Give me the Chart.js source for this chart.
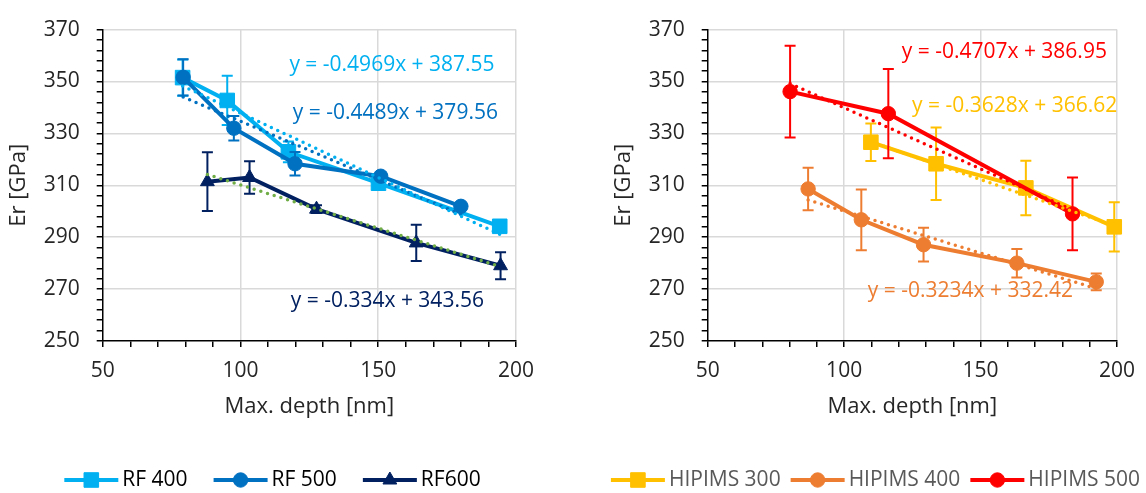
<!DOCTYPE html>
<html>
<head>
<meta charset="utf-8">
<title>Er vs max. depth</title>
<script src="https://cdn.jsdelivr.net/npm/chart.js@4.4.1/dist/chart.umd.min.js"></script>
<style>
  html, body { margin: 0; padding: 0; background: #fff; overflow: hidden; }
  #left { position: absolute; left: 0; top: 0; }
  #right { position: absolute; left: 605px; top: 0; }
</style>
</head>
<body>
<canvas id="left" width="545" height="493"></canvas>
<canvas id="right" width="541" height="493"></canvas>
<script>
// DATA - RF panel
const rfLabels = ["RF 400", "RF 500", "RF600"];
const rf400Depth = [79, 95.2, 117.4, 150.1, 194.1];
const rf400Er    = [351.5, 342.7, 322.9, 310.8, 294.2];
const rf400Err   = [7, 9.5, 4, 2.2, 1.5];
const rf500Depth = [79.2, 97.6, 119.8, 150.9, 180];
const rf500Er    = [351.6, 332, 318.3, 313.5, 301.9];
const rf500Err   = [7, 4.7, 4.5, 1.5, 1];
const rf600Depth = [88, 103.3, 127.6, 163.8, 194.4];
const rf600Er    = [311.4, 313, 300.8, 287.8, 279];
const rf600Err   = [11.3, 6.3, 1.5, 7, 5.2];
const rfSlopes     = [-0.4969, -0.4489, -0.334];
const rfIntercepts = [387.55, 379.56, 343.56];

// DATA - HIPIMS panel
const hipLabels = ["HIPIMS 300", "HIPIMS 400", "HIPIMS 500"];
const hip300Depth = [109.8, 133.7, 166.6, 199];
const hip300Er    = [326.6, 318.3, 309, 294];
const hip300Err   = [7.2, 14, 10.5, 9.5];
const hip400Depth = [86.8, 106.3, 129.1, 163.3, 192.4];
const hip400Er    = [308.6, 296.7, 287.1, 280, 272.8];
const hip400Err   = [8.2, 11.7, 6.5, 5.5, 3.2];
const hip500Depth = [80.2, 116.2, 183.7];
const hip500Er    = [346.1, 337.6, 299];
const hip500Err   = [17.7, 17.2, 14];
const hipSlopes     = [-0.3628, -0.3234, -0.4707];
const hipIntercepts = [366.62, 332.42, 386.95];

// AXES
const yMin = 250, yMax = 370, yMajor = 20, yMinor = 4;
const xMin = 50, xMax = 200, xMajor = 50, xMinor = 10;

const FONT = "Open Sans";
Chart.defaults.font.family = FONT;
Chart.defaults.font.size = 21;

const TEXT = "#262626";
const GRID = "#D9D9D9";

function points(xs, ys) {
  return xs.map((x, i) => ({ x: x, y: ys[i] }));
}

function series(label, xs, ys, errs, color, style, radius, order) {
  return {
    label: label,
    data: points(xs, ys),
    errors: errs,
    showLine: true,
    borderColor: color,
    backgroundColor: color,
    borderWidth: 4,
    pointStyle: style,
    pointRadius: radius,
    pointHoverRadius: radius,
    pointBorderWidth: 1,
    pointBackgroundColor: color,
    pointBorderColor: color,
    clip: false,
    order: order
  };
}

// linear trendline drawn over the series' own depth range
function trend(xs, slope, intercept, color) {
  const lo = Math.min(...xs), hi = Math.max(...xs);
  return {
    label: "trend",
    trend: true,
    data: [{ x: lo, y: slope * lo + intercept }, { x: hi, y: slope * hi + intercept }],
    showLine: true,
    borderColor: color,
    borderWidth: 3.5,
    borderDash: [0, 7],
    borderCapStyle: "round",
    pointRadius: 0,
    pointHoverRadius: 0,
    clip: false,
    order: 0
  };
}

function eqText(slope, intercept) {
  return "y = " + slope + "x + " + intercept;
}

// ERROR BARS (drawn just before each series)
const errorBars = {
  id: "errorBars",
  beforeDatasetDraw(chart, args) {
    const ds = chart.data.datasets[args.index];
    if (!ds.errors) return;
    const xs = chart.scales.x, ys = chart.scales.y, ctx = chart.ctx;
    ctx.save();
    ctx.strokeStyle = ds.borderColor;
    ctx.lineWidth = 2;
    ds.data.forEach((p, i) => {
      const px = xs.getPixelForValue(p.x);
      const top = ys.getPixelForValue(p.y + ds.errors[i]);
      const bot = ys.getPixelForValue(p.y - ds.errors[i]);
      ctx.beginPath();
      ctx.moveTo(px, top); ctx.lineTo(px, bot);
      ctx.moveTo(px - 5.5, top); ctx.lineTo(px + 5.5, top);
      ctx.moveTo(px - 5.5, bot); ctx.lineTo(px + 5.5, bot);
      ctx.stroke();
    });
    ctx.restore();
  }
};

// EQUATION LABELS
const equations = {
  id: "equations",
  afterDatasetsDraw(chart, args, opts) {
    const ctx = chart.ctx;
    ctx.save();
    ctx.font = "21px '" + FONT + "'";
    ctx.textAlign = "center";
    ctx.textBaseline = "middle";
    opts.items.forEach(it => {
      ctx.fillStyle = it.color;
      ctx.fillText(it.text, chart.scales.x.getPixelForValue(it.x), chart.scales.y.getPixelForValue(it.y));
    });
    ctx.restore();
  }
};

// LEGEND (line + marker, Excel style)
const lineLegend = {
  id: "lineLegend",
  afterDraw(chart, args, opts) {
    const ctx = chart.ctx;
    const items = chart.data.datasets.filter(d => !d.trend);
    ctx.save();
    ctx.font = "21px '" + FONT + "'";
    const widths = items.map(d => 54 + 4 + ctx.measureText(d.label).width);
    const total = widths.reduce((a, b) => a + b, 0) + opts.gap * (items.length - 1);
    let x = (chart.width - total) / 2;
    const y = opts.y;
    items.forEach((d, i) => {
      ctx.strokeStyle = d.borderColor;
      ctx.fillStyle = d.borderColor;
      ctx.lineWidth = 4;
      ctx.beginPath();
      ctx.moveTo(x, y); ctx.lineTo(x + 54, y);
      ctx.stroke();
      ctx.lineWidth = 1;
      Chart.helpers.drawPoint(ctx, { pointStyle: d.pointStyle, radius: d.pointRadius, borderWidth: 1, rotation: 0 }, x + 27, y);
      ctx.fillStyle = opts.color;
      ctx.textAlign = "left";
      ctx.textBaseline = "middle";
      ctx.fillText(d.label, x + 58, y);
      x += widths[i] + opts.gap;
    });
    ctx.restore();
  }
};

function scales() {
  return {
    x: {
      type: "linear", min: xMin, max: xMax,
      afterFit(s) { s.height = 83; },
      ticks: {
        stepSize: xMinor, autoSkip: false, maxRotation: 0, minRotation: 0,
        color: TEXT, padding: 11,
        callback: v => (v % xMajor === 0 ? v : "")
      },
      grid: {
        color: c => (c.tick && c.tick.value % xMajor === 0 && c.tick.value !== xMin ? GRID : "rgba(0,0,0,0)"),
        lineWidth: 1.5, tickColor: "#000", tickWidth: 1.5, tickLength: 6
      },
      border: { color: "#000", width: 1.5 },
      title: { display: true, text: "Max. depth [nm]", color: TEXT, font: { size: 22 } }
    },
    y: {
      type: "linear", min: yMin, max: yMax,
      afterFit(s) { s.width = 100.7; },
      ticks: {
        stepSize: yMinor, autoSkip: false, color: TEXT, padding: 17,
        callback: v => ((v - yMin) % yMajor === 0 ? v : "")
      },
      grid: {
        color: c => (c.tick && (c.tick.value - yMin) % yMajor === 0 && c.tick.value !== yMin ? GRID : "rgba(0,0,0,0)"),
        lineWidth: 1.5, tickColor: "#000", tickWidth: 1.5, tickLength: 6
      },
      border: { color: "#000", width: 1.5 },
      title: { display: true, text: "Er [GPa]", color: TEXT, font: { size: 22 } }
    }
  };
}

function makeChart(id, datasets, rightPad, eqItems, legendGap, legendColor) {
  return new Chart(document.getElementById(id), {
    type: "scatter",
    data: { datasets: datasets },
    options: {
      responsive: false,
      animation: false,
      events: [],
      layout: { padding: { left: 2, top: 20, right: rightPad, bottom: 69 } },
      scales: scales(),
      plugins: {
        legend: { display: false },
        tooltip: { enabled: false },
        equations: { items: eqItems },
        lineLegend: { y: 480, gap: legendGap, color: legendColor }
      }
    },
    plugins: [errorBars, equations, lineLegend]
  });
}

// INIT
const rfColors = ["#00B0F0", "#0070C0", "#002060"];
const rfTrendColors = ["#00B0F0", "#0070C0", "#70AD47"];
makeChart("left", [
  series(rfLabels[0], rf400Depth, rf400Er, rf400Err, rfColors[0], "rect", 10.3, 3),
  series(rfLabels[1], rf500Depth, rf500Er, rf500Err, rfColors[1], "circle", 7.2, 2),
  series(rfLabels[2], rf600Depth, rf600Er, rf600Err, rfColors[2], "triangle", 8, 1),
  trend(rf400Depth, rfSlopes[0], rfIntercepts[0], rfTrendColors[0]),
  trend(rf500Depth, rfSlopes[1], rfIntercepts[1], rfTrendColors[1]),
  trend(rf600Depth, rfSlopes[2], rfIntercepts[2], rfTrendColors[2])
], 25.7, [
  { text: eqText(rfSlopes[0], rfIntercepts[0]), color: rfColors[0], x: 155, y: 356.5 },
  { text: eqText(rfSlopes[1], rfIntercepts[1]), color: rfColors[1], x: 156.2, y: 337.8 },
  { text: eqText(rfSlopes[2], rfIntercepts[2]), color: rfColors[2], x: 153.3, y: 265.3 }
], 26, "#000");

const hipColors = ["#FFC000", "#ED7D31", "#FF0000"];
makeChart("right", [
  series(hipLabels[0], hip300Depth, hip300Er, hip300Err, hipColors[0], "rect", 10.3, 3),
  series(hipLabels[1], hip400Depth, hip400Er, hip400Err, hipColors[1], "circle", 7.2, 2),
  series(hipLabels[2], hip500Depth, hip500Er, hip500Err, hipColors[2], "circle", 7.2, 1),
  trend(hip300Depth, hipSlopes[0], hipIntercepts[0], hipColors[0]),
  trend(hip400Depth, hipSlopes[1], hipIntercepts[1], hipColors[1]),
  trend(hip500Depth, hipSlopes[2], hipIntercepts[2], hipColors[2])
], 22, [
  { text: eqText(hipSlopes[2], hipIntercepts[2]), color: hipColors[2], x: 158.7, y: 361.4 },
  { text: eqText(hipSlopes[0], hipIntercepts[0]), color: hipColors[0], x: 162.5, y: 340.5 },
  { text: eqText(hipSlopes[1], hipIntercepts[1]), color: hipColors[1], x: 146.3, y: 269.4 }
], 10, "#595959");
</script>
</body>
</html>
